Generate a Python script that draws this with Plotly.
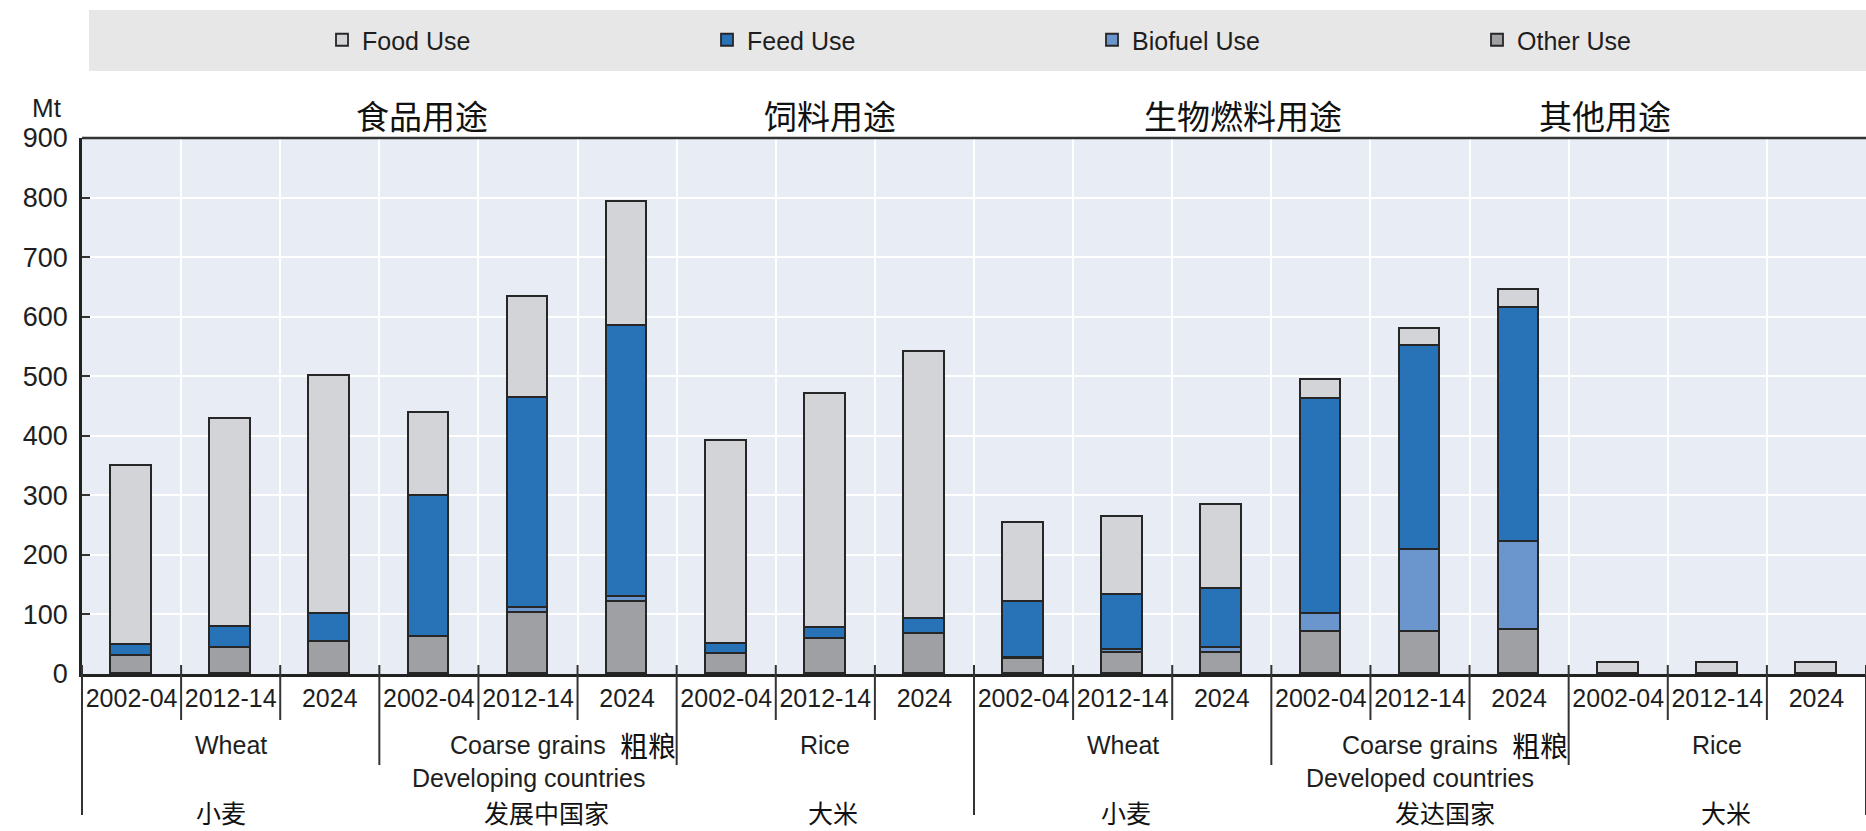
import plotly.graph_objects as go

# ---------------- data ----------------
years = ["2002-04", "2012-14", "2024"] * 6
crops = ["Wheat", "Coarse grains", "Rice", "Wheat", "Coarse grains", "Rice"]
crops_cn = ["小麦", "粗粮", "大米", "小麦", "粗粮", "大米"]
groups = ["Developing countries", "Developed countries"]
groups_cn = ["发展中国家", "发达国家"]
series_names = ["Food Use", "Feed Use", "Biofuel Use", "Other Use"]
series_cn = ["食品用途", "饲料用途", "生物燃料用途", "其他用途"]

food_use = [302, 350, 399, 139, 170, 208, 340, 392, 448, 132, 132, 141, 32, 30, 31, 18, 18, 18]
feed_use = [18, 35, 47, 237, 353, 456, 17, 19, 25, 94, 92, 100, 360, 342, 393, 0, 0, 0]
biofuel_use = [0, 0, 0, 0, 7, 8, 0, 0, 0, 1, 5, 8, 30, 138, 147, 0, 0, 0]
other_use = [30, 44, 54, 62, 103, 121, 34, 59, 68, 26, 35, 35, 71, 70, 74, 0, 0, 0]

y_ticks = [0, 100, 200, 300, 400, 500, 600, 700, 800, 900]

# ---------------- style ----------------
W, H = 1866, 831
L, R, T, B = 82, 0, 138, 157
PH = H - T - B
PW = W - L - R
LAT = "Liberation Sans, Arial, sans-serif"
CJK = "Noto Sans CJK SC, sans-serif"
INK = "#1e1e1e"
colors = {"Food Use": "#d3d4d7", "Feed Use": "#2872b8",
          "Biofuel Use": "#6b96cd", "Other Use": "#9fa0a3"}

n = len(years)
xs = list(range(n))


def py(Y):  # pixel -> paper y
    return (H - B - Y) / PH


def pxp(b):  # data boundary -> paper x
    return (b + 0.5) / n


fig = go.Figure()
for name, vals in [("Other Use", other_use), ("Biofuel Use", biofuel_use),
                   ("Feed Use", feed_use), ("Food Use", food_use)]:
    fig.add_trace(go.Bar(
        x=xs, y=vals, name=name, width=0.41,
        marker=dict(color=colors[name], line=dict(color="#262626", width=1.8)),
    ))

shapes = []
# legend band
shapes.append(dict(type="rect", xref="paper", yref="paper", x0=(89 - L) / PW, x1=1,
                   y0=py(71), y1=py(10), fillcolor="#e7e7e8", line=dict(width=0), layer="below"))
# top border
shapes.append(dict(type="line", xref="paper", yref="paper", x0=0, x1=1, y0=1, y1=1,
                   line=dict(color="#333333", width=2.5)))
# dividers below the axis
for k in range(n + 1):
    b = k - 0.5
    if k % 9 == 0:
        y_end = 815
    elif k % 3 == 0:
        y_end = 765
    else:
        y_end = 720
    shapes.append(dict(type="line", xref="paper", yref="paper", x0=pxp(b), x1=pxp(b),
                       y0=py(665), y1=py(y_end), line=dict(color="#333333", width=2)))

annotations = []
# Mt
annotations.append(dict(text="Mt", xref="paper", yref="paper", x=(47 - L) / PW, y=py(108),
                        xanchor="center", yanchor="middle", showarrow=False,
                        font=dict(family=LAT, size=26, color=INK)))
# chinese series labels
for txt, cx in zip(series_cn, [422, 830, 1243, 1605]):
    annotations.append(dict(text=txt, xref="paper", yref="paper", x=(cx - L) / PW, y=py(115),
                            xanchor="center", yanchor="middle", showarrow=False,
                            font=dict(family=CJK, size=33, color="#111111")))
# crop labels
for i, c in enumerate(crops):
    annotations.append(dict(text=c, xref="x", yref="paper", x=3 * i + 1, y=py(745),
                            xanchor="center", yanchor="middle", showarrow=False,
                            font=dict(family=LAT, size=25, color=INK)))
# 粗粮 next to Coarse grains
for i in (1, 4):
    annotations.append(dict(text=crops_cn[i], xref="x", yref="paper", x=3 * i + 1, y=py(745),
                            xanchor="left", yanchor="middle", showarrow=False, xshift=90,
                            font=dict(family=CJK, size=28, color="#111111")))
# group labels
for g, gtxt in enumerate(groups):
    annotations.append(dict(text=gtxt, xref="x", yref="paper", x=9 * g + 4, y=py(778),
                            xanchor="center", yanchor="middle", showarrow=False,
                            font=dict(family=LAT, size=25, color=INK)))
# chinese labels at the very bottom
bottom_cn = [crops_cn[0], groups_cn[0], crops_cn[2], crops_cn[3], groups_cn[1], crops_cn[5]]
bottom_x = [1, 4, 7, 10, 13, 16]
bottom_shift = [-10, 18, 8, 3, 25, 9]
for txt, x, s in zip(bottom_cn, bottom_x, bottom_shift):
    annotations.append(dict(text=txt, xref="x", yref="paper", x=x, y=py(812),
                            xanchor="center", yanchor="middle", showarrow=False, xshift=s,
                            font=dict(family=CJK, size=25, color="#111111")))

fig.update_layout(
    width=W, height=H,
    margin=dict(l=L, r=R, t=T, b=B, pad=0, autoexpand=False),
    paper_bgcolor="white", plot_bgcolor="#e8ecf4",
    barmode="stack", bargap=0,
    showlegend=True,
    legend=dict(orientation="h", x=(322 - L) / PW, xanchor="left", y=py(40), yanchor="middle",
                traceorder="reversed", entrywidth=340, entrywidthmode="pixels",
                bgcolor="rgba(0,0,0,0)", font=dict(family=LAT, size=25, color=INK),
                itemclick=False),
    xaxis=dict(range=[-0.5, n - 0.5], tickmode="array", tickvals=xs, ticktext=years,
               tickangle=0,
               showgrid=False, zeroline=False, ticks="", showline=True, linecolor="#222222",
               linewidth=3, tickfont=dict(family=LAT, size=25, color=INK),
               ticklabelstandoff=0,
               minor=dict(tickmode="linear", tick0=-0.5, dtick=1, showgrid=True,
                          gridcolor="white", gridwidth=2, ticks="")),
    yaxis=dict(range=[0, 900], tickmode="array", tickvals=y_ticks,
               showgrid=True, gridcolor="white", gridwidth=2, zeroline=False,
               ticks="inside", ticklen=8, tickcolor="#333333", tickwidth=1.5,
               showline=True, linecolor="#222222", linewidth=2.5,
               tickfont=dict(family=LAT, size=27, color=INK), ticklabelstandoff=6),
    shapes=shapes,
    annotations=annotations,
)

fig.write_html("out.html")
